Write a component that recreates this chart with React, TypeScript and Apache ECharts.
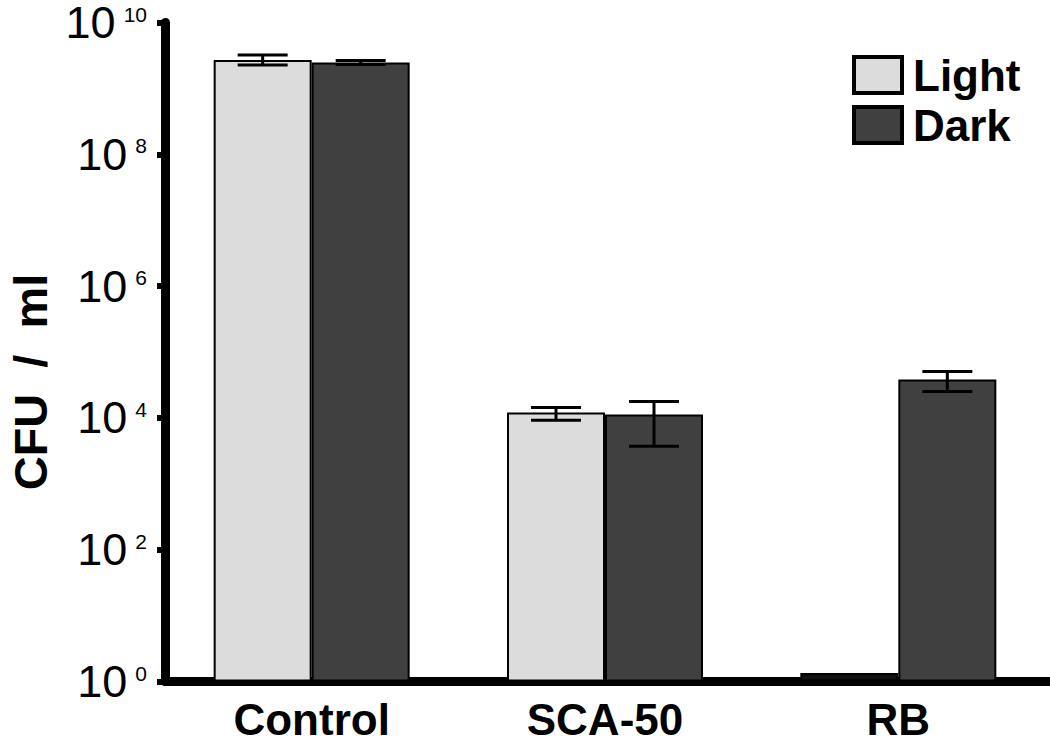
import React, { useEffect, useRef } from 'react';
import * as echarts from 'echarts';

const categories = ['Control', 'SCA-50', 'RB'];
const seriesNames = ['Light', 'Dark'];
const lightValues = [2.7e9, 1.21e4, 1.35];
const darkValues = [2.48e9, 1.13e4, 3.83e4];
const lightErrLow: (number | null)[] = [2.27e9, 9.2e3, null];
const lightErrHigh: (number | null)[] = [3.22e9, 1.44e4, null];
const darkErrLow: (number | null)[] = [2.3e9, 3.7e3, 2.52e4];
const darkErrHigh: (number | null)[] = [2.65e9, 1.78e4, 5.07e4];
const yMin = 1;
const yMax = 1e10;
const yAxisTitle = 'CFU  /  ml';

const FONT = '"Liberation Sans", Arial, sans-serif';
const BAR_W = 98;
const LIGHT = '#dcdcdc';
const DARK = '#404040';

function errData(lo: (number | null)[], hi: (number | null)[]) {
  const out: any[] = [];
  lo.forEach((l, i) => {
    const h = hi[i];
    if (l != null && h != null) out.push([i, l, h]);
  });
  return out;
}

function makeErrRender(offset: number) {
  return (params: any, api: any) => {
    const i = api.value(0);
    const lo = api.coord([i, api.value(1)]);
    const hi = api.coord([i, api.value(2)]);
    const x = lo[0] + offset;
    const half = 25;
    const style = { stroke: '#000', lineWidth: 3 };
    return {
      type: 'group',
      children: [
        { type: 'line', shape: { x1: x, y1: lo[1], x2: x, y2: hi[1] }, style },
        { type: 'line', shape: { x1: x - half, y1: lo[1], x2: x + half, y2: lo[1] }, style },
        { type: 'line', shape: { x1: x - half, y1: hi[1], x2: x + half, y2: hi[1] }, style },
      ],
    };
  };
}

export default function App() {
  const ref = useRef<HTMLDivElement>(null);
  useEffect(() => {
    if (!ref.current) return;
    const chart = echarts.init(ref.current, undefined, { renderer: 'svg' });
    chart.setOption({
      animation: false,
      backgroundColor: '#fff',
      textStyle: { fontFamily: FONT },
      grid: { left: 165, right: 5, top: 21.5, bottom: 61.5 },
      legend: {
        data: seriesNames,
        orient: 'vertical',
        left: 852,
        top: 53,
        padding: 0,
        itemGap: 6,
        icon: 'rect',
        itemWidth: 48,
        itemHeight: 36,
        itemStyle: { borderWidth: 4, borderColor: '#000' },
        textStyle: { fontSize: 44, lineHeight: 40, fontWeight: 'bold', color: '#000', fontFamily: FONT, padding: [0, 0, 0, 6] },
      },
      xAxis: {
        type: 'category',
        data: categories,
        axisLine: { lineStyle: { color: '#000', width: 9 } },
        axisTick: { show: false },
        axisLabel: { fontSize: 44, lineHeight: 36, fontWeight: 'bold', color: '#000', margin: 20, fontFamily: FONT },
      },
      yAxis: {
        type: 'log',
        logBase: 10,
        min: yMin,
        max: yMax,
        interval: 2,
        axisLine: { show: true, lineStyle: { color: '#000', width: 9 } },
        axisTick: { show: true, length: 8, lineStyle: { color: '#000', width: 6 } },
        splitLine: { show: false },
        minorTick: { show: false },
        axisLabel: {
          margin: 18,
          formatter: (v: number) => `{b|10}{e|${Math.round(Math.log10(v))}}`,
          rich: {
            b: { fontSize: 45, color: '#000', fontFamily: FONT, lineHeight: 38 },
            e: { fontSize: 21, color: '#000', fontFamily: FONT, verticalAlign: 'top', lineHeight: 22, padding: [0, 0, 0, 8] },
          },
        },
      },
      graphic: [
        {
          type: 'text',
          x: 30,
          y: 382,
          rotation: Math.PI / 2,
          style: {
            text: yAxisTitle,
            fontSize: 47,
            fontWeight: 'bold',
            fontFamily: FONT,
            fill: '#000',
            textAlign: 'center',
            textVerticalAlign: 'middle',
          },
        },
        { type: 'rect', shape: { x: 1043, y: 677, width: 8, height: 9 }, style: { fill: '#000' } },
      ],
      series: [
        {
          name: 'Light',
          type: 'bar',
          data: lightValues.map((v, i) =>
            i === 2 ? { value: v, itemStyle: { color: '#111' } } : v
          ),
          barWidth: BAR_W,
          barGap: '0%',
          itemStyle: { color: LIGHT, borderColor: '#000', borderWidth: 2 },
          z: 2,
        },
        {
          name: 'Dark',
          type: 'bar',
          data: darkValues,
          barWidth: BAR_W,
          barGap: '0%',
          itemStyle: { color: DARK, borderColor: '#000', borderWidth: 2 },
          z: 2,
        },
        {
          name: 'LightErr',
          type: 'custom',
          renderItem: makeErrRender(-BAR_W / 2),
          data: errData(lightErrLow, lightErrHigh),
          encode: { x: 0, y: [1, 2] },
          z: 5,
        },
        {
          name: 'DarkErr',
          type: 'custom',
          renderItem: makeErrRender(BAR_W / 2),
          data: errData(darkErrLow, darkErrHigh),
          encode: { x: 0, y: [1, 2] },
          z: 5,
        },
      ],
    });
    return () => chart.dispose();
  }, []);
  return <div ref={ref} style={{ width: 1050, height: 743, position: 'absolute', left: 0, top: 0 }} />;
}
